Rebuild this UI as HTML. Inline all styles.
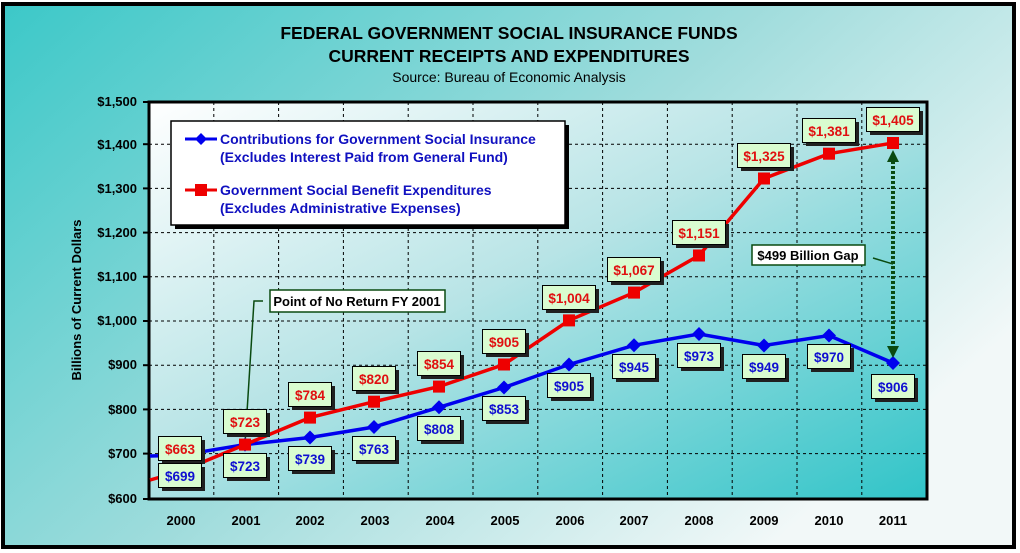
<!DOCTYPE html>
<html><head><style>
html,body{margin:0;padding:0;background:#fff;}
svg{display:block;}
text{font-family:"Liberation Sans Narrow","Liberation Sans",sans-serif;font-weight:bold;}
</style></head><body>
<svg width="1020" height="553" viewBox="0 0 1020 553" xmlns="http://www.w3.org/2000/svg">
<defs>
<linearGradient id="bg" x1="0" y1="0" x2="1" y2="0.6">
<stop offset="0" stop-color="#3cc8c8"/><stop offset="0.55" stop-color="#9fdcdc"/><stop offset="1" stop-color="#f2f8f8"/>
</linearGradient>
<linearGradient id="pa" x1="0" y1="0" x2="1" y2="1">
<stop offset="0" stop-color="#ffffff"/><stop offset="0.45" stop-color="#b8e4e6"/><stop offset="1" stop-color="#30c4c8"/>
</linearGradient>
<marker id="ah" viewBox="0 0 10 10" refX="5" refY="5" markerWidth="3" markerHeight="3" orient="auto-start-reverse"><path d="M0,0L10,5L0,10z" fill="#0a4a10"/></marker>
</defs>
<rect x="0" y="0" width="1020" height="553" fill="#fff"/>
<rect x="3" y="4" width="1011" height="543" fill="url(#bg)" stroke="#000" stroke-width="4"/>
<g text-anchor="middle" fill="#000">
<text x="509" y="39" font-size="17.5" style="font-family:'Liberation Sans',sans-serif">FEDERAL GOVERNMENT SOCIAL INSURANCE FUNDS</text>
<text x="509" y="62" font-size="17.5" style="font-family:'Liberation Sans',sans-serif">CURRENT RECEIPTS AND EXPENDITURES</text>
<text x="509" y="82" font-size="14" style="font-family:'Liberation Sans',sans-serif;font-weight:normal">Source: Bureau of Economic Analysis</text>
</g>
<rect x="149" y="102" width="778" height="397" fill="url(#pa)"/>
<g stroke="#000" stroke-width="1" stroke-dasharray="3,3">
<line x1="149" x2="927" y1="144.2" y2="144.2"/><line x1="149" x2="927" y1="188.4" y2="188.4"/>
<line x1="149" x2="927" y1="232.6" y2="232.6"/><line x1="149" x2="927" y1="276.8" y2="276.8"/>
<line x1="149" x2="927" y1="321" y2="321"/><line x1="149" x2="927" y1="365.2" y2="365.2"/>
<line x1="149" x2="927" y1="409.4" y2="409.4"/><line x1="149" x2="927" y1="453.6" y2="453.6"/>
<line y1="102" y2="499" x1="213.8" x2="213.8"/><line y1="102" y2="499" x1="278.6" x2="278.6"/>
<line y1="102" y2="499" x1="343.4" x2="343.4"/><line y1="102" y2="499" x1="408.2" x2="408.2"/>
<line y1="102" y2="499" x1="473" x2="473"/><line y1="102" y2="499" x1="537.8" x2="537.8"/>
<line y1="102" y2="499" x1="602.6" x2="602.6"/><line y1="102" y2="499" x1="667.4" x2="667.4"/>
<line y1="102" y2="499" x1="732.2" x2="732.2"/><line y1="102" y2="499" x1="797" x2="797"/>
<line y1="102" y2="499" x1="861.8" x2="861.8"/>
</g>
<rect x="149" y="102" width="778" height="397" fill="none" stroke="#000" stroke-width="3"/>
<g stroke="#000" stroke-width="2">
<line x1="143" x2="149" y1="102" y2="102"/><line x1="143" x2="149" y1="144.2" y2="144.2"/><line x1="143" x2="149" y1="188.4" y2="188.4"/><line x1="143" x2="149" y1="232.6" y2="232.6"/><line x1="143" x2="149" y1="276.8" y2="276.8"/><line x1="143" x2="149" y1="321" y2="321"/><line x1="143" x2="149" y1="365.2" y2="365.2"/><line x1="143" x2="149" y1="409.4" y2="409.4"/><line x1="143" x2="149" y1="453.6" y2="453.6"/><line x1="143" x2="149" y1="499" y2="499"/>
</g>
<g font-size="13" text-anchor="end" fill="#000">
<text x="137" y="106">$1,500</text><text x="137" y="149">$1,400</text><text x="137" y="193">$1,300</text><text x="137" y="237">$1,200</text><text x="137" y="281">$1,100</text><text x="137" y="325">$1,000</text><text x="137" y="369">$900</text><text x="137" y="414">$800</text><text x="137" y="458">$700</text><text x="137" y="503">$600</text>
</g>
<text transform="translate(81,300) rotate(-90)" text-anchor="middle" font-size="13" fill="#000">Billions of Current Dollars</text>
<g font-size="13" text-anchor="middle" fill="#000">
<text x="181" y="525">2000</text><text x="246" y="525">2001</text><text x="310" y="525">2002</text><text x="375" y="525">2003</text><text x="440" y="525">2004</text><text x="505" y="525">2005</text><text x="570" y="525">2006</text><text x="634" y="525">2007</text><text x="699" y="525">2008</text><text x="764" y="525">2009</text><text x="829" y="525">2010</text><text x="893" y="525">2011</text>
</g>
<!-- annotations leader -->
<polyline points="263,301 254,301 245,444" fill="none" stroke="#0a4a10" stroke-width="1.5"/>
<line x1="873" y1="258" x2="893" y2="264" stroke="#0a4a10" stroke-width="1.5"/>
<!-- series -->
<polyline fill="none" stroke="#0000ee" stroke-width="3.5" points="150,456 180,455.3 245,444.6 310,437.5 374,427 439,407.3 504,387.5 569,364.5 634,345.3 699,334 764,345.5 829,335.5 893,363"/>
<polyline fill="none" stroke="#ee0000" stroke-width="3.5" points="150,480 180,471.5 245,444.6 310,417.6 374,401.7 439,386.6 504,364.5 569,320.4 634,292.6 699,255.5 764,178.5 829,153.7 893,143"/>
<g fill="#0000ee">
<path d="M245,437.6l7,7l-7,7l-7,-7z"/><path d="M310,430.5l7,7l-7,7l-7,-7z"/><path d="M374,420l7,7l-7,7l-7,-7z"/><path d="M439,400.3l7,7l-7,7l-7,-7z"/><path d="M504,380.5l7,7l-7,7l-7,-7z"/><path d="M569,357.5l7,7l-7,7l-7,-7z"/><path d="M634,338.3l7,7l-7,7l-7,-7z"/><path d="M699,327l7,7l-7,7l-7,-7z"/><path d="M764,338.5l7,7l-7,7l-7,-7z"/><path d="M829,328.5l7,7l-7,7l-7,-7z"/><path d="M893,356l7,7l-7,7l-7,-7z"/>
</g>
<g fill="#ee0000">
<rect x="239" y="438.6" width="12" height="12"/><rect x="304" y="411.6" width="12" height="12"/><rect x="368" y="395.7" width="12" height="12"/><rect x="433" y="380.6" width="12" height="12"/><rect x="498" y="358.5" width="12" height="12"/><rect x="563" y="314.4" width="12" height="12"/><rect x="628" y="286.6" width="12" height="12"/><rect x="693" y="249.5" width="12" height="12"/><rect x="758" y="172.5" width="12" height="12"/><rect x="823" y="147.7" width="12" height="12"/><rect x="887" y="137" width="12" height="12"/>
</g>
<line x1="893" y1="156" x2="893" y2="352" stroke="#0a4a10" stroke-width="4" stroke-dasharray="3,2" marker-start="url(#ah)" marker-end="url(#ah)"/>
<!-- legend -->
<rect x="175" y="125" width="394" height="104" fill="#000"/>
<rect x="171" y="121" width="394" height="104" fill="#fff" stroke="#000" stroke-width="1.5"/>
<line x1="185" x2="217" y1="139" y2="139" stroke="#0000ee" stroke-width="3"/><path d="M201,133l6,6l-6,6l-6,-6z" fill="#0000ee"/>
<line x1="185" x2="217" y1="190" y2="190" stroke="#ee0000" stroke-width="3"/><rect x="195" y="184" width="12" height="12" fill="#ee0000"/>
<g fill="#1010c0" font-size="14" style="font-family:'Liberation Sans',sans-serif">
<text x="220" y="144">Contributions for Government Social Insurance</text>
<text x="220" y="162">(Excludes Interest Paid from General Fund)</text>
<text x="220" y="195">Government Social Benefit Expenditures</text>
<text x="220" y="213">(Excludes Administrative Expenses)</text>
</g>
<!-- annotation boxes -->
<rect x="270" y="290" width="175" height="22" fill="#fff" stroke="#0a4a10" stroke-width="1.5"/>
<text x="357" y="306" text-anchor="middle" font-size="13" fill="#000">Point of No Return FY 2001</text>
<rect x="752" y="245" width="113" height="20" fill="#fff" stroke="#0a4a10" stroke-width="1.5"/>
<text x="808" y="260" text-anchor="middle" font-size="13" fill="#000">$499 Billion Gap</text>
<!-- data labels -->
<g font-size="13.5" text-anchor="middle">
<g fill="#202020">
<rect x="162" y="440" width="43" height="24"/><rect x="227" y="413" width="43" height="24"/><rect x="292" y="386" width="43" height="24"/><rect x="356" y="370" width="43" height="24"/><rect x="421" y="355" width="43" height="24"/><rect x="486" y="333" width="43" height="24"/><rect x="546" y="289" width="53" height="24"/><rect x="611" y="261" width="53" height="24"/><rect x="676" y="224" width="53" height="24"/><rect x="741" y="147" width="53" height="24"/><rect x="806" y="122" width="53" height="24"/><rect x="870" y="111" width="53" height="24"/>
<rect x="162" y="467" width="43" height="24"/><rect x="227" y="457" width="43" height="24"/><rect x="292" y="450" width="43" height="24"/><rect x="356" y="440" width="43" height="24"/><rect x="421" y="420" width="43" height="24"/><rect x="486" y="400" width="43" height="24"/><rect x="551" y="377" width="43" height="24"/><rect x="616" y="358" width="43" height="24"/><rect x="681" y="347" width="43" height="24"/><rect x="746" y="358" width="43" height="24"/><rect x="811" y="348" width="43" height="24"/><rect x="875" y="378" width="43" height="24"/>
</g>
<g fill="#d9fcd0" stroke="#000" stroke-width="1">
<rect x="158.5" y="436.5" width="43" height="24"/><rect x="223.5" y="409.5" width="43" height="24"/><rect x="288.5" y="382.5" width="43" height="24"/><rect x="352.5" y="366.5" width="43" height="24"/><rect x="417.5" y="351.5" width="43" height="24"/><rect x="482.5" y="329.5" width="43" height="24"/><rect x="542.5" y="285.5" width="53" height="24"/><rect x="607.5" y="257.5" width="53" height="24"/><rect x="672.5" y="220.5" width="53" height="24"/><rect x="737.5" y="143.5" width="53" height="24"/><rect x="802.5" y="118.5" width="53" height="24"/><rect x="866.5" y="107.5" width="53" height="24"/>
<rect x="158.5" y="463.5" width="43" height="24"/><rect x="223.5" y="453.5" width="43" height="24"/><rect x="288.5" y="446.5" width="43" height="24"/><rect x="352.5" y="436.5" width="43" height="24"/><rect x="417.5" y="416.5" width="43" height="24"/><rect x="482.5" y="396.5" width="43" height="24"/><rect x="547.5" y="373.5" width="43" height="24"/><rect x="612.5" y="354.5" width="43" height="24"/><rect x="677.5" y="343.5" width="43" height="24"/><rect x="742.5" y="354.5" width="43" height="24"/><rect x="807.5" y="344.5" width="43" height="24"/><rect x="871.5" y="374.5" width="43" height="24"/>
</g>
<g fill="#e01010">
<text x="180" y="454">$663</text><text x="245" y="427">$723</text><text x="310" y="400">$784</text><text x="374" y="384">$820</text><text x="439" y="369">$854</text><text x="504" y="347">$905</text><text x="569" y="303">$1,004</text><text x="634" y="275">$1,067</text><text x="699" y="238">$1,151</text><text x="764" y="161">$1,325</text><text x="829" y="136">$1,381</text><text x="893" y="125">$1,405</text>
</g>
<g fill="#1010d0">
<text x="180" y="481">$699</text><text x="245" y="471">$723</text><text x="310" y="464">$739</text><text x="374" y="454">$763</text><text x="439" y="434">$808</text><text x="504" y="414">$853</text><text x="569" y="391">$905</text><text x="634" y="372">$945</text><text x="699" y="361">$973</text><text x="764" y="372">$949</text><text x="829" y="362">$970</text><text x="893" y="392">$906</text>
</g>
</g>
</svg>
</body></html>
